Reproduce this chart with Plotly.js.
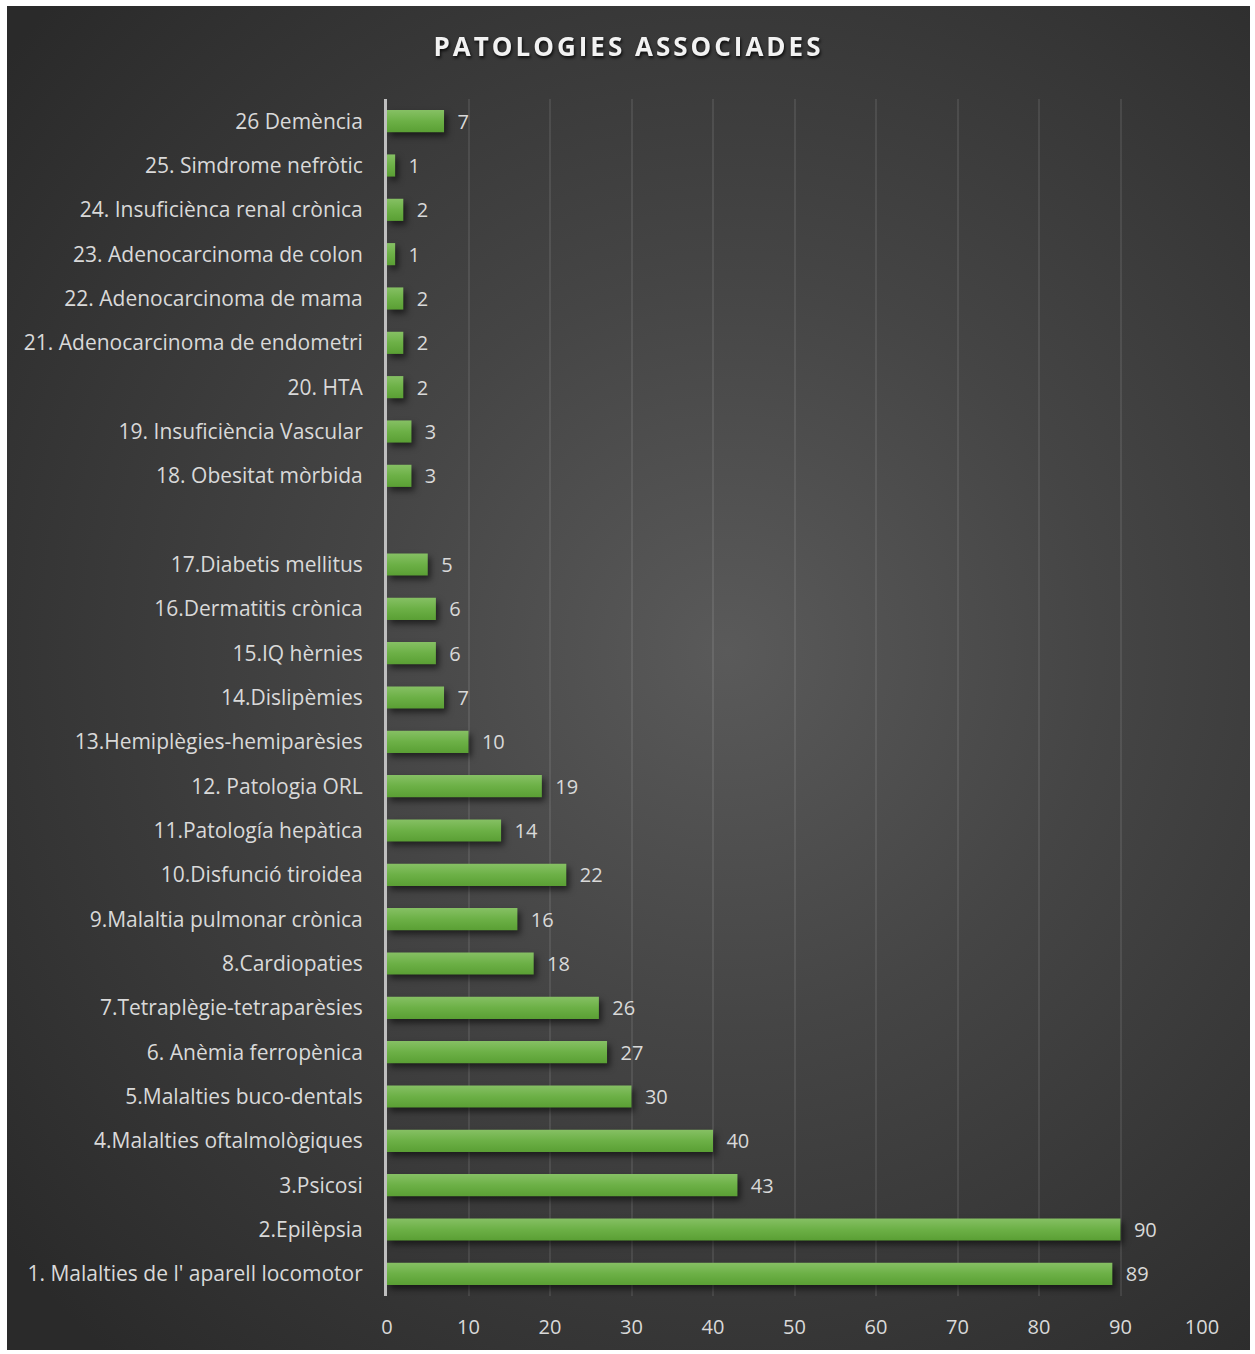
<!DOCTYPE html>
<html>
<head>
<meta charset="utf-8">
<script src="https://cdn.plot.ly/plotly-3.0.1.min.js"></script>
<style>
  html, body { margin: 0; padding: 0; background: #ffffff; }
  #wrap {
    position: absolute; left: 7px; top: 6px; width: 1243px; height: 1344px;
    background: radial-gradient(ellipse 75% 70% at 58% 48%, #5a5a5a 0%, #454545 40%, #2a2a2a 100%);
  }
  #chart { width: 1243px; height: 1344px; }
  .trace.bars .point path {
    fill: url(#barGrad) !important;
    filter: drop-shadow(3px 4px 3px rgba(0,0,0,0.55));
  }
  .gtitle { letter-spacing: 3px; filter: drop-shadow(1px 2px 1.5px rgba(0,0,0,0.8)); }
</style>
</head>
<body>
<svg width="0" height="0" style="position:absolute">
  <defs>
    <linearGradient id="barGrad" x1="0" y1="0" x2="0" y2="1">
      <stop offset="0%" stop-color="#86c064"/>
      <stop offset="50%" stop-color="#6cb046"/>
      <stop offset="100%" stop-color="#5a9f34"/>
    </linearGradient>
  </defs>
</svg>
<div id="wrap"><div id="chart"></div></div>
<script>
// Categories from bottom to top (" " is the empty slot between 17 and 18)
const categories = [
  "1. Malalties de l' aparell locomotor",
  "2.Epilèpsia",
  "3.Psicosi",
  "4.Malalties oftalmològiques",
  "5.Malalties buco-dentals",
  "6. Anèmia ferropènica",
  "7.Tetraplègie-tetraparèsies",
  "8.Cardiopaties",
  "9.Malaltia pulmonar crònica",
  "10.Disfunció tiroidea",
  "11.Patología hepàtica",
  "12. Patologia ORL",
  "13.Hemiplègies-hemiparèsies",
  "14.Dislipèmies",
  "15.IQ hèrnies",
  "16.Dermatitis crònica",
  "17.Diabetis mellitus",
  " ",
  "18. Obesitat mòrbida",
  "19. Insuficiència Vascular",
  "20. HTA",
  "21. Adenocarcinoma de endometri",
  "22. Adenocarcinoma de mama",
  "23. Adenocarcinoma de colon",
  "24. Insuficiènca renal crònica",
  "25. Simdrome nefròtic",
  "26 Demència"
];
const values = [89, 90, 43, 40, 30, 27, 26, 18, 16, 22, 14, 19, 10, 7, 6, 6, 5, null, 3, 3, 2, 2, 2, 1, 2, 1, 7];
const xTicks = [0, 10, 20, 30, 40, 50, 60, 70, 80, 90, 100];
const chartTitle = "PATOLOGIES ASSOCIADES";

const labelFont = "'Open Sans', 'Noto Sans', sans-serif";

const trace = {
  type: 'bar',
  orientation: 'h',
  y: categories,
  x: values,
  width: 0.5,
  marker: { color: '#6cb046', line: { width: 0 } },
  text: values.map(v => v === null ? '' : String(v)),
  texttemplate: '\u00a0\u00a0%{text}',
  textposition: 'outside',
  constraintext: 'none',
  cliponaxis: false,
  textfont: { family: labelFont, size: 20, color: '#d9d9d9' },
  hoverinfo: 'x+y'
};

const layout = {
  width: 1243,
  height: 1344,
  paper_bgcolor: 'rgba(0,0,0,0)',
  plot_bgcolor: 'rgba(0,0,0,0)',
  margin: { l: 380, r: 48, t: 93, b: 54 },
  showlegend: false,
  title: {
    text: '<b>' + chartTitle + '</b>',
    x: 0.5, xanchor: 'center', xref: 'container',
    y: 1 - 41 / 1344, yanchor: 'middle', yref: 'container',
    font: { family: "'Open Sans', Lato, sans-serif", size: 26, color: '#f2f2f2' }
  },
  xaxis: {
    range: [0, 100],
    tickvals: xTicks,
    ticktext: xTicks.map(String),
    showgrid: true,
    gridcolor: 'rgba(255,255,255,0.09)',
    gridwidth: 2,
    zeroline: false,
    showline: false,
    ticks: '',
    ticklabelstandoff: 17,
    tickfont: { family: labelFont, size: 20, color: '#d9d9d9' },
    fixedrange: true
  },
  yaxis: {
    type: 'category',
    categoryorder: 'array',
    categoryarray: categories,
    showgrid: false,
    zeroline: false,
    showline: true,
    linecolor: '#bfbfbf',
    linewidth: 3,
    ticks: '',
    ticklabelstandoff: 17,
    tickfont: { family: labelFont, size: 21, color: '#d9d9d9' },
    fixedrange: true
  },
  bargap: 0.5
};

Plotly.newPlot('chart', [trace], layout, { displayModeBar: false, staticPlot: true });
</script>
</body>
</html>
